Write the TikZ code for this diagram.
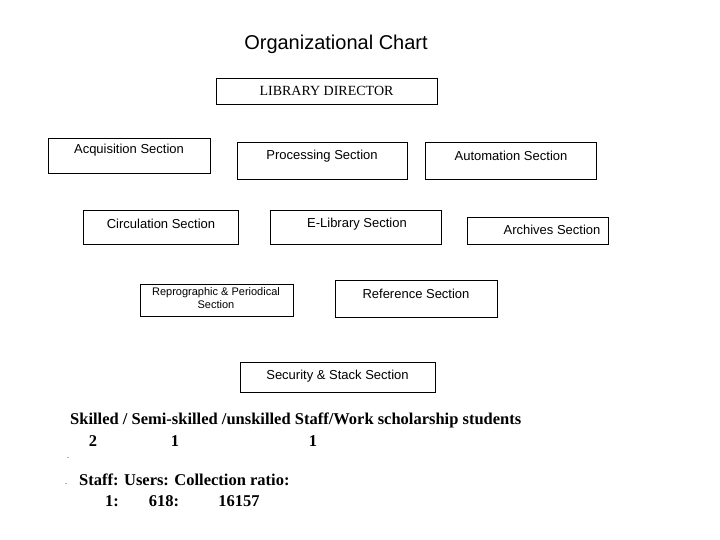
\documentclass[tikz,border=0pt]{standalone}
\usepackage{fontspec}
\setmainfont{Liberation Serif}
\newfontfamily\arial{Liberation Sans}
\begin{document}
\begin{tikzpicture}[x=1pt,y=-1pt,
  bx/.style={draw,line width=0.6pt},
  lab/.style={font=\arial\fontsize{13}{15}\selectfont,inner sep=0pt,anchor=center},
  bt/.style={font=\bfseries\fontsize{16.5}{19}\selectfont,inner sep=0pt,anchor=west}]
\useasboundingbox (0,0) rectangle (720,540);
\node[font=\arial\fontsize{20}{24}\selectfont,inner sep=0pt] (title) at (336,44) {Organizational Chart};
\draw[bx] (216,78) rectangle (437,104);
\node[inner sep=0pt,font=\fontsize{14}{16}\selectfont] (dir) at (326.5,91) {LIBRARY DIRECTOR};
\draw[bx] (48,138) rectangle (210,173);
\node[lab] (acq) at (129,150) {Acquisition Section};
\draw[bx] (237,142) rectangle (407,179);
\node[lab] (proc) at (322,156) {Processing Section};
\draw[bx] (425,142) rectangle (596,179);
\node[lab] (auto) at (511,156) {Automation Section};
\draw[bx] (83,210) rectangle (238,244);
\node[lab] (circ) at (161,224) {Circulation Section};
\draw[bx] (270,210) rectangle (441,244);
\node[lab] (elib) at (357,224) {E-Library Section};
\draw[bx] (467,217) rectangle (608,244);
\node[lab] (arch) at (552,230) {Archives Section};
\draw[bx] (140,284) rectangle (293,316);
\node[inner sep=0pt,align=center,font=\arial\fontsize{11}{13}\selectfont] (rep) at (216,298.5) {Reprographic \& Periodical\\Section};
\draw[bx] (335,280) rectangle (497,317);
\node[lab] (ref) at (416,294) {Reference Section};
\draw[bx] (240,362) rectangle (435,392);
\node[lab] (sec) at (337.5,376) {Security \& Stack Section};
\node[bt] (sk) at (70,420) {Skilled / Semi-skilled /unskilled Staff/Work scholarship students};
\node[bt,anchor=center] (n1) at (93,441) {2};
\node[bt,anchor=center] (n2) at (175,441) {1};
\node[bt,anchor=center] (n3) at (313,441) {1};
\node[font=\fontsize{8}{8}\selectfont,inner sep=0pt] (d1) at (68,458) {.};
\node[font=\fontsize{8}{8}\selectfont,inner sep=0pt] (d2) at (66,484) {.};
\node[bt] (st) at (79,480) {Staff: Users: Collection ratio:};
\node[bt,anchor=center] (r1) at (112,501) {1:};
\node[bt,anchor=center] (r2) at (164,501) {618:};
\node[bt,anchor=center] (r3) at (239,501) {16157};
\end{tikzpicture}
\end{document}
